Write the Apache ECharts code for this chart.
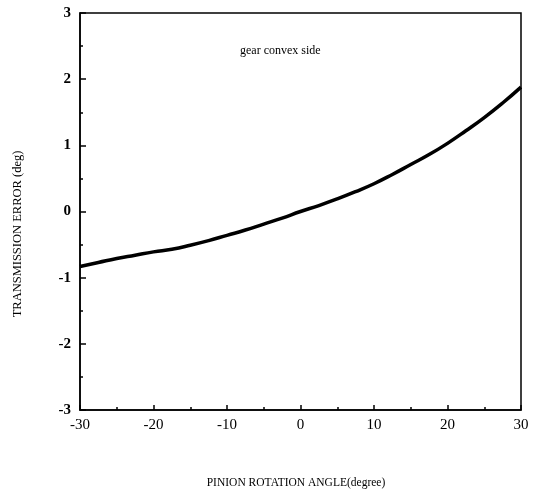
<!DOCTYPE html>
<html>
<head>
<meta charset="utf-8">
<script src="https://cdn.jsdelivr.net/npm/echarts@6/dist/echarts.min.js"></script>
<style>
  html, body { margin: 0; padding: 0; background: #fff; }
  #chart { width: 537px; height: 492px; }
</style>
</head>
<body>
<div id="chart"></div>
<script>
// pinion rotation angle (degree)
var angles = [-30, -27.5, -25, -22.5, -20, -17.5, -15, -12.5, -10, -7.5, -5, -2.5,
  0, 2.5, 5, 7.5, 10, 12.5, 15, 17.5, 20, 22.5, 25, 27.5, 30];
// transmission error (deg), gear convex side
var transErr = [-0.83, -0.77, -0.71, -0.66, -0.61, -0.57, -0.51, -0.44, -0.36, -0.28, -0.19, -0.10,
  0.0, 0.09, 0.19, 0.30, 0.42, 0.56, 0.71, 0.86, 1.03, 1.22, 1.42, 1.64, 1.88];

var points = angles.map(function (a, i) { return [a, transErr[i]]; });

var myChart = echarts.init(document.getElementById('chart'));
var font = 'Liberation Serif';
var option = {
  backgroundColor: '#fff',
  animation: false,
  textStyle: { fontFamily: font, color: '#000' },
  grid: {
    left: 80, right: 16, top: 13, bottom: 82,
    show: true, borderColor: '#000', borderWidth: 1.5
  },
  xAxis: {
    type: 'value', min: -30, max: 30, interval: 10,
    axisLine: { onZero: false, lineStyle: { color: '#000', width: 1.5 } },
    axisTick: { inside: true, length: 5, lineStyle: { color: '#000', width: 1.5 } },
    minorTick: { show: true, splitNumber: 2, length: 3, lineStyle: { color: '#000', width: 1.5 } },
    splitLine: { show: false },
    axisLabel: { color: '#000', fontSize: 15, fontFamily: font, margin: 8 }
  },
  yAxis: {
    type: 'value', min: -3, max: 3, interval: 1,
    axisLine: { onZero: false, lineStyle: { color: '#000', width: 1.5 } },
    axisTick: { inside: true, length: 6, lineStyle: { color: '#000', width: 1.5 } },
    minorTick: { show: true, splitNumber: 2, length: 3, lineStyle: { color: '#000', width: 1.5 } },
    splitLine: { show: false },
    axisLabel: { color: '#000', fontSize: 15, fontFamily: font, margin: 9, fontWeight: 'bold' }
  },
  graphic: [
    {
      type: 'text', left: 240, top: 45,
      style: { text: 'gear convex side', font: '12px ' + font, fill: '#000' }
    },
    {
      type: 'text', x: 296, y: 483,
      style: { text: 'PINION ROTATION ANGLE(degree)', font: '11.5px ' + font, fill: '#000',
        textAlign: 'center', textVerticalAlign: 'middle' }
    },
    {
      type: 'text', x: 18, y: 234, rotation: Math.PI / 2,
      style: { text: 'TRANSMISSION ERROR (deg)', font: '12.5px ' + font, fill: '#000',
        textAlign: 'center', textVerticalAlign: 'middle' }
    }
  ],
  series: [
    {
      type: 'line',
      data: points,
      smooth: true,
      showSymbol: false,
      lineStyle: { color: '#000', width: 3.5 }
    }
  ]
};
myChart.setOption(option);
window.addEventListener('resize', function () {
  myChart.resize();
});
</script>
</body>
</html>
